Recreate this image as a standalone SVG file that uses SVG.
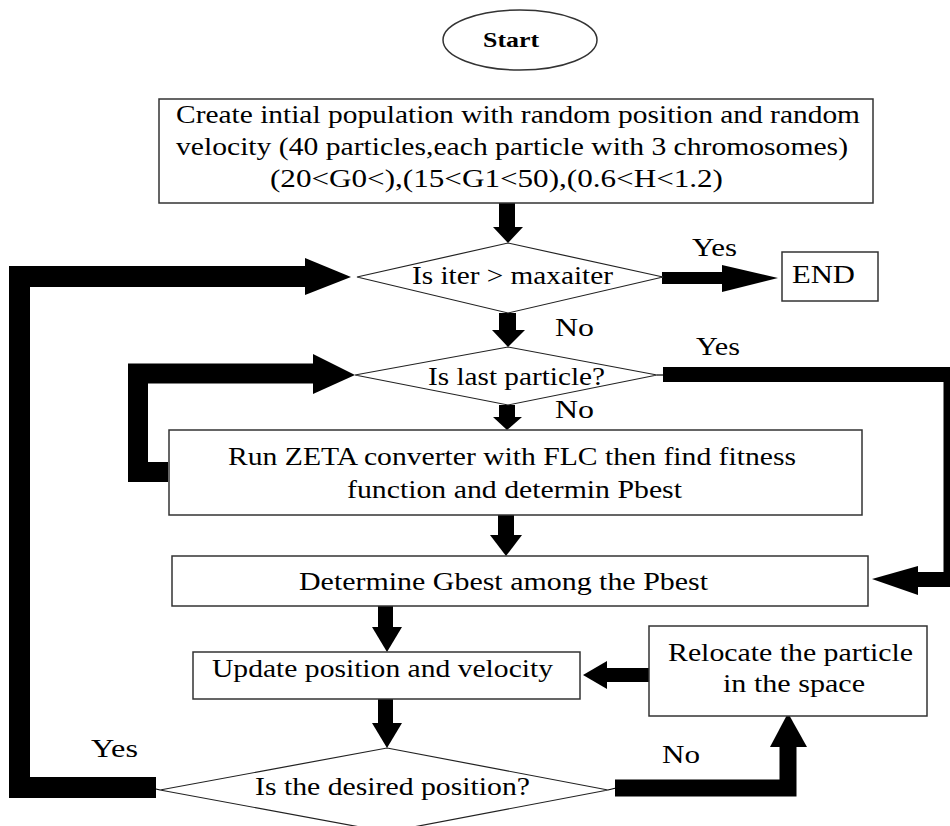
<svg xmlns="http://www.w3.org/2000/svg" width="950" height="826" viewBox="0 0 950 826">
<style>
  .box { fill: #fff; stroke: #333; stroke-width: 1.5; }
  .dia { fill: #fff; stroke: #222; stroke-width: 1.2; }
  .t { font-family: "Liberation Serif", "Times New Roman", serif; font-size: 25px; fill: #000; }
  .b { font-weight: bold; font-size: 22px; }
  .wire { fill: none; stroke: #000; stroke-linejoin: miter; stroke-linecap: butt; }
  .thin { fill: none; stroke: #000; stroke-width: 1.2; }
  .head { fill: #000; }
</style>
<rect width="950" height="826" fill="#fff"/>

<g id="connectors">
  <!-- Start box -> Diamond 1 -->
  <rect class="head" x="499" y="203" width="16" height="25"/>
  <polygon class="head" points="493,227 523,227 508,243"/>
  <!-- Diamond 1 -> Diamond 2 (No) -->
  <rect class="head" x="499" y="313" width="17" height="18"/>
  <polygon class="head" points="492,330 525,330 508,347"/>
  <!-- Diamond 2 -> Box 2 (No) -->
  <rect class="head" x="499" y="405" width="16" height="13"/>
  <polygon class="head" points="493,417 522,417 507,430"/>
  <!-- Box 2 -> Box 3 -->
  <rect class="head" x="498" y="515" width="16" height="21"/>
  <polygon class="head" points="490,535 522,535 506,556"/>
  <!-- Box 3 -> Box 4 -->
  <rect class="head" x="378" y="606" width="15" height="22"/>
  <polygon class="head" points="372,627 402,627 387,652"/>
  <!-- Box 4 -> Diamond 3 -->
  <rect class="head" x="378" y="699" width="15" height="25"/>
  <polygon class="head" points="372,723 402,723 387,748"/>
  <!-- Diamond 1 -> END (Yes) -->
  <line class="thin" x1="657" y1="277" x2="663" y2="277"/>
  <rect class="head" x="662" y="272" width="61" height="12"/>
  <polygon class="head" points="722,265 722,292 778,278"/>
  <!-- Outer loop: Diamond 3 (Yes) -> Diamond 1 -->
  <path class="wire" stroke-width="21" d="M156,787.5 H19.5 V276.5 H306"/>
  <polygon class="head" points="305,258 305,295 351,277"/>
  <line class="thin" x1="150" y1="787.5" x2="160" y2="790"/>
  <!-- Inner loop: Box 2 -> Diamond 2 -->
  <path class="wire" stroke-width="20" d="M168,472 H138 V373.5 H314"/>
  <polygon class="head" points="313,354 313,394 355,375"/>
  <!-- Diamond 2 (Yes) -> Box 3 -->
  <line class="thin" x1="657" y1="375" x2="664" y2="375"/>
  <path class="wire" stroke-width="15" d="M663,374.5 H951 V579.5 H918"/>
  <polygon class="head" points="918,566 918,595 872,579"/>
  <!-- Box 5 -> Box 4 -->
  <rect class="head" x="606" y="668" width="44" height="14"/>
  <polygon class="head" points="607,661 607,689 583,675"/>
  <!-- Diamond 3 (No) -> Box 5 -->
  <line class="thin" x1="608" y1="790" x2="616" y2="788"/>
  <path class="wire" stroke-width="17" d="M615,788 H788 V745"/>
  <polygon class="head" points="770,747 807,747 788,713"/>
</g>

<g id="start">
  <ellipse class="box" cx="520" cy="40" rx="77" ry="30" stroke-width="1.3"/>
  <text class="t b" x="483" y="47" textLength="56" lengthAdjust="spacingAndGlyphs">Start</text>
</g>

<g id="init">
  <rect class="box" x="159" y="99" width="714" height="104"/>
  <text class="t" x="176" y="123" textLength="684" lengthAdjust="spacingAndGlyphs">Create intial population with random position and random</text>
  <text class="t" x="176" y="155" textLength="672" lengthAdjust="spacingAndGlyphs">velocity (40 particles,each particle with 3 chromosomes)</text>
  <text class="t" x="270" y="187" textLength="453" lengthAdjust="spacingAndGlyphs">(20&lt;G0&lt;),(15&lt;G1&lt;50),(0.6&lt;H&lt;1.2)</text>
</g>

<g id="iter">
  <polygon class="dia" points="508,243 663,277 508,313 357,277"/>
  <text class="t" x="412" y="284" textLength="201" lengthAdjust="spacingAndGlyphs">Is iter &gt; maxaiter</text>
  <text class="t" x="692" y="256" textLength="45" lengthAdjust="spacingAndGlyphs">Yes</text>
  <text class="t" x="555" y="336" textLength="39" lengthAdjust="spacingAndGlyphs">No</text>
</g>

<g id="end">
  <rect class="box" x="782" y="252" width="96" height="49"/>
  <text class="t" x="792" y="283" font-size="26" textLength="63" lengthAdjust="spacingAndGlyphs">END</text>
</g>

<g id="last">
  <polygon class="dia" points="508,347 657,375 508,405 355,375"/>
  <text class="t" x="428" y="385" textLength="177" lengthAdjust="spacingAndGlyphs">Is last particle?</text>
  <text class="t" x="696" y="355" textLength="44" lengthAdjust="spacingAndGlyphs">Yes</text>
  <text class="t" x="555" y="418" textLength="39" lengthAdjust="spacingAndGlyphs">No</text>
</g>

<g id="run">
  <rect class="box" x="169" y="430" width="693" height="85"/>
  <text class="t" x="228" y="465" textLength="568" lengthAdjust="spacingAndGlyphs">Run ZETA converter with FLC then find fitness</text>
  <text class="t" x="347" y="498" textLength="335" lengthAdjust="spacingAndGlyphs">function and determin Pbest</text>
</g>

<g id="gbest">
  <rect class="box" x="172" y="556" width="696" height="50"/>
  <text class="t" x="299" y="590" textLength="409" lengthAdjust="spacingAndGlyphs">Determine Gbest among the Pbest</text>
</g>

<g id="update">
  <rect class="box" x="193" y="652" width="387" height="47"/>
  <text class="t" x="212" y="677" textLength="341" lengthAdjust="spacingAndGlyphs">Update position and velocity</text>
</g>

<g id="relocate">
  <rect class="box" x="649" y="626" width="278" height="90"/>
  <text class="t" x="668" y="661" textLength="245" lengthAdjust="spacingAndGlyphs">Relocate the particle</text>
  <text class="t" x="723" y="692" textLength="142" lengthAdjust="spacingAndGlyphs">in the space</text>
</g>

<g id="desired">
  <polygon class="dia" points="387,748 608,790 387,832 160,790"/>
  <text class="t" x="255" y="795" textLength="275" lengthAdjust="spacingAndGlyphs">Is the desired position?</text>
  <text class="t" x="91" y="757" textLength="47" lengthAdjust="spacingAndGlyphs">Yes</text>
  <text class="t" x="662" y="763" textLength="38" lengthAdjust="spacingAndGlyphs">No</text>
</g>
</svg>
